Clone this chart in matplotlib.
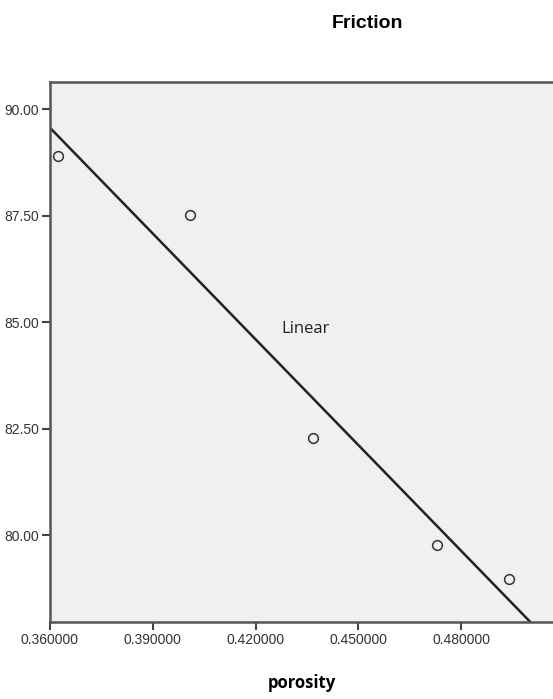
import numpy as np
import matplotlib.pyplot as plt
from matplotlib import font_manager

## Data: porosity vs friction
porosity = [0.3623, 0.4009, 0.4369, 0.4730, 0.4941]
friction = [88.90, 87.52, 82.29, 79.77, 78.98]
xticks = [0.36, 0.39, 0.42, 0.45, 0.48]
yticks = [80.0, 82.5, 85.0, 87.5, 90.0]

## Pick a narrow font for the tick labels if it is there
names = set(f.name for f in font_manager.fontManager.ttflist)
narrow = 'Liberation Sans Narrow' if 'Liberation Sans Narrow' in names else 'Liberation Sans'

## Linear fit through the points
slope, intercept = np.polyfit(porosity, friction, 1)

fig = plt.figure(figsize=(5.53, 6.99), dpi=100)
ax = fig.add_axes([0.0904, 0.1102, 0.9106, 0.7725])
ax.set_facecolor('#f0f0f0')

xlim = (0.36, 0.507)
ylim = (77.97, 90.64)
fit_x = np.array(xlim)
ax.plot(fit_x, slope * fit_x + intercept, color='#222222', linewidth=1.8, zorder=2)
ax.plot(porosity, friction, linestyle='none', marker='o', markersize=7,
        markerfacecolor='none', markeredgecolor='#333333', markeredgewidth=1.1, zorder=3)

ax.set_xlim(xlim)
ax.set_ylim(ylim)
ax.set_xticks(xticks)
ax.set_yticks(yticks)
ax.set_xticklabels(['%.6f' % v for v in xticks], fontfamily=narrow, fontsize=10, color='#333333')
ax.set_yticklabels(['%.2f' % v for v in yticks], fontfamily=narrow, fontsize=10, color='#333333')
ax.tick_params(axis='both', direction='out', length=6, width=1.5, color='#444444', pad=2)

for side in ['left', 'bottom', 'top']:
    ax.spines[side].set_color('#555555')
    ax.spines[side].set_linewidth(1.8)
ax.spines['right'].set_visible(False)

ax.text(0.4275, 84.85, 'Linear', fontfamily='Open Sans', fontsize=12, color='#222222',
        ha='left', va='center')

fig.text(0.664, 0.967, 'Friction', fontfamily=narrow, fontweight='bold', fontsize=14,
         ha='center', va='center')
fig.text(0.545, 0.023, 'porosity', fontfamily='Open Sans', fontweight='bold', fontsize=12,
         ha='center', va='center')

plt.savefig('out.png', dpi=100)
